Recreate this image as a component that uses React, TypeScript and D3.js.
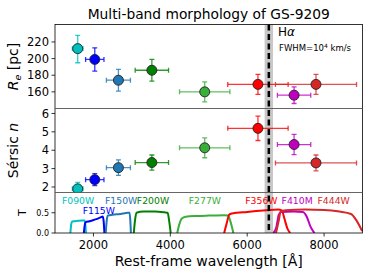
import * as d3 from 'd3'

// measurements per filter
const filters = ['F090W', 'F115W', 'F150W', 'F200W', 'F277W', 'F356W', 'F410M', 'F444W']
const colors = ['#00bfbf', '#0000ff', '#1f77b4', '#008000', '#3aae3a', '#ff0000', '#bf00bf', '#d62728']
const restWave = [1591, 2035, 2650, 3520, 4895, 6280, 7220, 7790]
const waveErr = [139, 239, 312, 434, 655, 785, 434, 1055]
const reVals = [212, 199, 174, 186, 160, 169, 156, 169]
const reErrUp = [16, 14, 13, 13, 12, 12, 10, 12]
const reErrDn = [17, 14, 13, 13, 12, 12, 10, 12]
const nVals = [1.9, 2.4, 3.05, 3.33, 4.13, 5.19, 4.31, 3.31]
const nErr = [0.35, 0.33, 0.42, 0.41, 0.54, 0.66, 0.55, 0.43]

// throughput curves [wavelength, T]
const curveF090W = [[1400, 0], [1420, 0.2], [1440, 0.28], [1500, 0.29], [1600, 0.3], [1700, 0.31], [1770, 0.31], [1790, 0.2], [1805, 0]]
const curveF115W = [[1750, 0], [1775, 0.2], [1800, 0.27], [1900, 0.29], [2000, 0.32], [2100, 0.35], [2200, 0.39], [2240, 0.41], [2265, 0.3], [2285, 0]]
const curveF150W = [[2320, 0], [2345, 0.3], [2370, 0.43], [2500, 0.45], [2700, 0.47], [2900, 0.5], [2940, 0.5], [2960, 0.3], [2975, 0]]
const curveF200W = [[3050, 0], [3080, 0.3], [3120, 0.5], [3300, 0.53], [3600, 0.53], [3850, 0.51], [3930, 0.5], [3970, 0.3], [4010, 0]]
const curveF277W = [[4180, 0], [4230, 0.2], [4300, 0.36], [4400, 0.4], [4700, 0.42], [5000, 0.43], [5400, 0.44], [5500, 0.43], [5560, 0.3], [5640, 0]]
const curveF356W = [[5400, 0], [5470, 0.25], [5530, 0.45], [5600, 0.48], [6000, 0.52], [6500, 0.56], [6800, 0.58], [6900, 0.56], [6970, 0.35], [7050, 0.1], [7120, 0]]
const curveF410M = [[6680, 0], [6760, 0.15], [6820, 0.45], [6880, 0.52], [7200, 0.53], [7450, 0.52], [7550, 0.4], [7650, 0.15], [7750, 0]]
const curveF444W = [[6750, 0], [6820, 0.3], [6870, 0.52], [7000, 0.56], [7500, 0.58], [8000, 0.57], [8400, 0.53], [8700, 0.47], [8850, 0.3], [8990, 0.05]]
const curves = [curveF090W, curveF115W, curveF150W, curveF200W, curveF277W, curveF356W, curveF410M, curveF444W]

// filter label positions [wavelength, T]
const labelPos = [[1600, 0.8], [2140, 0.56], [2720, 0.8], [3550, 0.8], [4900, 0.8], [6370, 0.8], [7300, 0.8], [8250, 0.8]]

const xTicks = [2000, 4000, 6000, 8000]
const reTicks = [160, 180, 200, 220]
const nTicks = [2, 3, 4, 5, 6]
const tTicks = [0, 0.5]
const hAlpha = 6563
const hAlphaFwhm = 219

const W = 373
const H = 280
const L = 55
const R = 362.5
const top1 = 24.5
const bot1 = 108.5
const bot2 = 192.5
const bot3 = 233
const font = 'DejaVu Sans'

export default function App() {
  const x = d3.scaleLinear().domain([1000, 9000]).range([L, R])
  const yRe = d3.scaleLinear().domain([140, 241]).range([bot1, top1])
  const yN = d3.scaleLinear().domain([1.7, 6.27]).range([bot2, bot1])
  const yT = d3.scaleLinear().domain([0, 1]).range([bot3, bot2])

  const line = d3.line<number[]>()
    .x((d) => x(d[0]))
    .y((d) => yT(d[1]))
    .curve(d3.curveMonotoneX)

  const errPanel = (y: d3.ScaleLinear<number, number>, vals: number[], up: number[], dn: number[], clip: string) => (
    <g clipPath={`url(#${clip})`}>
      {vals.map((v, i) => {
        const c = colors[i]
        const cx = x(restWave[i])
        const cy = y(v)
        const x0 = x(restWave[i] - waveErr[i])
        const x1 = x(restWave[i] + waveErr[i])
        const y0 = y(v + up[i])
        const y1 = y(v - dn[i])
        return (
          <g key={i} stroke={c} strokeWidth={1.3} strokeOpacity={0.8}>
            <line x1={x0} x2={x1} y1={cy} y2={cy} />
            <line x1={cx} x2={cx} y1={y0} y2={y1} />
            <line x1={x0} x2={x0} y1={cy - 2.5} y2={cy + 2.5} />
            <line x1={x1} x2={x1} y1={cy - 2.5} y2={cy + 2.5} />
            <line x1={cx - 2.5} x2={cx + 2.5} y1={y0} y2={y0} />
            <line x1={cx - 2.5} x2={cx + 2.5} y1={y1} y2={y1} />
          </g>
        )
      })}
      {vals.map((v, i) => (
        <circle key={'m' + i} cx={x(restWave[i])} cy={y(v)} r={5} fill={colors[i]} stroke="#222" strokeWidth={0.9} />
      ))}
    </g>
  )

  const yAxis = (y: d3.ScaleLinear<number, number>, ticks: number[], size: number, fmt: (v: number) => string) => (
    <g>
      {ticks.map((t) => (
        <g key={t}>
          <line x1={L - 3.5} x2={L} y1={y(t)} y2={y(t)} stroke="#000" strokeWidth={0.8} />
          <text x={L - 6} y={y(t)} dy="0.36em" textAnchor="end" fontSize={size} fontFamily={font}>{fmt(t)}</text>
        </g>
      ))}
    </g>
  )

  return (
    <svg width={W} height={H} style={{ position: 'absolute', left: 0, top: 0, background: '#fff' }}>
      <defs>
        <clipPath id="c1"><rect x={L} y={top1} width={R - L} height={bot1 - top1} /></clipPath>
        <clipPath id="c2"><rect x={L} y={bot1} width={R - L} height={bot2 - bot1} /></clipPath>
        <clipPath id="c3"><rect x={L} y={bot2} width={R - L} height={bot3 - bot2} /></clipPath>
      </defs>

      <text x={(L + R) / 2} y={18.5} textAnchor="middle" fontSize={13.8} fontFamily={font}>Multi-band morphology of GS-9209</text>

      {/* H-alpha band and line */}
      <rect x={x(hAlpha - hAlphaFwhm / 2)} y={top1} width={x(hAlpha + hAlphaFwhm / 2) - x(hAlpha - hAlphaFwhm / 2)} height={bot3 - top1} fill="#c8c8c8" />

      {/* filter curves */}
      <g clipPath="url(#c3)">
        {curves.map((c, i) => (
          <path key={i} d={line(c) ?? ''} fill="none" stroke={colors[i]} strokeWidth={2} />
        ))}
      </g>
      {filters.map((f, i) => (
        <text key={f} x={x(labelPos[i][0])} y={yT(labelPos[i][1])} dy="0.36em" textAnchor="middle" fontSize={9.3} fontFamily={font} fill={colors[i]}>{f}</text>
      ))}

      {errPanel(yRe, reVals, reErrUp, reErrDn, 'c1')}
      {errPanel(yN, nVals, nErr, nErr, 'c2')}

      <line x1={x(hAlpha)} x2={x(hAlpha)} y1={top1} y2={bot3} stroke="#000" strokeWidth={2.5} strokeDasharray="6,3.5" />

      <text x={278} y={35.5} fontSize={12} fontFamily={font}>H<tspan fontStyle="italic">α</tspan></text>
      <text x={279} y={51} fontSize={8.5} fontFamily={font}>FWHM=10<tspan dy={-3.5} fontSize={6}>4</tspan><tspan dy={3.5}> km/s</tspan></text>

      {/* frames */}
      <rect x={L} y={top1} width={R - L} height={bot3 - top1} fill="none" stroke="#000" strokeWidth={0.8} />
      <line x1={L} x2={R} y1={bot1} y2={bot1} stroke="#555" strokeWidth={0.9} />
      <line x1={L} x2={R} y1={bot2} y2={bot2} stroke="#555" strokeWidth={0.9} />

      {yAxis(yRe, reTicks, 11.5, (v) => String(v))}
      {yAxis(yN, nTicks, 11.5, (v) => String(v))}
      {yAxis(yT, tTicks, 8, d3.format('.1f'))}

      {xTicks.map((t) => (
        <g key={t}>
          <line x1={x(t)} x2={x(t)} y1={bot3} y2={bot3 + 3.5} stroke="#000" strokeWidth={0.8} />
          <text x={x(t)} y={248.5} textAnchor="middle" fontSize={11.5} fontFamily={font}>{t}</text>
        </g>
      ))}

      <text transform={`translate(18,${(top1 + bot1) / 2}) rotate(-90)`} textAnchor="middle" fontSize={14} fontFamily={font}>
        <tspan fontStyle="italic">R</tspan><tspan fontSize={9.5} dy={3} fontStyle="italic">e</tspan><tspan dy={-3}> [pc]</tspan>
      </text>
      <text transform={`translate(18,${(bot1 + bot2) / 2}) rotate(-90)`} textAnchor="middle" fontSize={14} fontFamily={font}>
        Sérsic <tspan fontStyle="italic">n</tspan>
      </text>
      <text transform={`translate(26,${(bot2 + bot3) / 2}) rotate(-90)`} textAnchor="middle" fontSize={11} fontFamily={font}>T</text>

      <text x={(L + R) / 2} y={265.5} textAnchor="middle" fontSize={14} fontFamily={font}>Rest-frame wavelength [Å]</text>
    </svg>
  )
}
